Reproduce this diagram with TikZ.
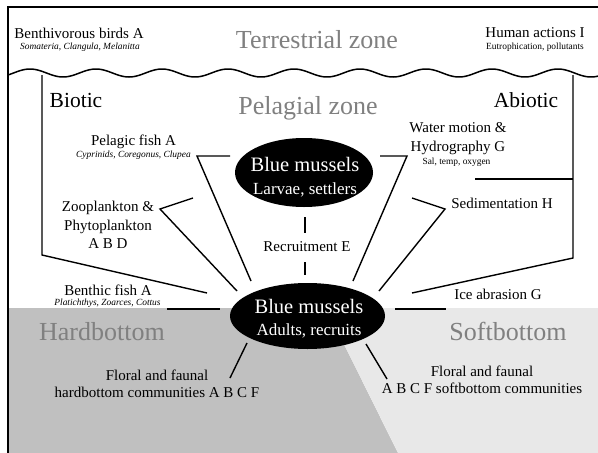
\documentclass[tikz,border=0pt]{standalone}
\usepackage{fontspec}
\setmainfont{Liberation Serif}
\usetikzlibrary{shapes.geometric}
\definecolor{zonegray}{HTML}{808080}
\definecolor{hardfill}{HTML}{C0C0C0}
\definecolor{softfill}{HTML}{E8E8E8}
\begin{document}
\begin{tikzpicture}[x=1pt,y=-1pt,
  lbl/.style={inner sep=0pt, align=center, font=\fontsize{15}{18.5}\selectfont},
  small/.style={inner sep=0pt, font=\fontsize{9.4}{11}\selectfont},
  smallit/.style={inner sep=0pt, font=\fontsize{9.4}{11}\selectfont\itshape},
  zone/.style={inner sep=0pt, text=zonegray, font=\fontsize{26}{30}\selectfont},
  side/.style={inner sep=0pt, font=\fontsize{21.5}{24}\selectfont},
  mussel/.style={ellipse, fill=black, inner sep=0pt},
  musseltext/.style={inner sep=0pt, align=center, text=white},
  conn/.style={line width=1.4pt},
]
\useasboundingbox (0,0) rectangle (598,453);
% bottom regions
\fill[hardfill] (8,308) -- (326,308) -- (398,453) -- (8,453) -- cycle;
\fill[softfill] (326,308) -- (598,308) -- (598,453) -- (398,453) -- cycle;
% frame
\draw[line width=1.2pt] (8,453) -- (8,7) -- (598,7);
% shoreline wave
\draw[line width=1.5pt] plot[domain=8:598, samples=240, smooth] (\x, {73-4*sin(((\x)-211.5)/66*360)});

% zone labels
\node[zone] (terr) at (317,40) {Terrestrial zone};
\node[zone] (pel) at (308,108) {Pelagial zone};
\node[zone] (hard) at (102,332) {Hardbottom};
\node[zone] (soft) at (508,331) {Softbottom};
\node[side] (biotic) at (76,100) {Biotic};
\node[side] (abiotic) at (526,100) {Abiotic};

% top labels
\node[lbl] (birds) at (79,33) {Benthivorous birds A};
\node[smallit] (birdssp) at (80,47) {Somateria, Clangula, Melanitta};
\node[lbl] (human) at (535,33) {Human actions I};
\node[small] (humansp) at (535,47) {Eutrophication, pollutants};

% biotic labels
\node[lbl] (pfish) at (133.5,142) {Pelagic fish A};
\node[smallit] (pfishsp) at (133.5,155) {Cyprinids, Coregonus, Clupea};
\node[lbl] (zoo) at (108,225) {Zooplankton \&\\Phytoplankton\\A B D};
\node[lbl] (bfish) at (108,290) {Benthic fish A};
\node[smallit] (bfishsp) at (107.5,303) {Platichthys, Zoarces, Cottus};

% abiotic labels
\node[lbl, font=\fontsize{15}{19}\selectfont] (water) at (458,138.5) {Water motion \&\\Hydrography G};
\node[small] (watersp) at (456.5,162) {Sal, temp, oxygen};
\node[lbl] (sed) at (502,203) {Sedimentation H};
\node[lbl] (ice) at (498,294) {Ice abrasion G};

% centre
\node[lbl] (rec) at (307,247) {Recruitment E};
\node[mussel, minimum width=138pt, minimum height=69pt] (larvae) at (304,172.5) {};
\node[musseltext, font=\fontsize{20.5}{23}\selectfont] (larvaeTxt) at (305,177)
  {Blue mussels\\{\fontsize{17}{23}\selectfont Larvae, settlers}};
\node[mussel, minimum width=155pt, minimum height=66pt] (adults) at (307.5,316) {};
\node[musseltext, font=\fontsize{20.5}{22}\selectfont] (adultsTxt) at (309,318.5)
  {Blue mussels\\{\fontsize{17}{22}\selectfont Adults, recruits}};

% bottom labels
\node[lbl, font=\fontsize{15}{17}\selectfont] (hfloral) at (157,383.5) {Floral and faunal\\hardbottom communities A B C F};
\node[lbl, font=\fontsize{15}{17}\selectfont] (sfloral) at (482,379.5) {Floral and faunal\\A B C F softbottom communities};

% connector points
\coordinate (bioTop) at (42,75);
\coordinate (bioBend) at (42,255);
\coordinate (bioEnd) at (207,293);
\coordinate (abioTop) at (573,75);
\coordinate (abioBend) at (573,258);
\coordinate (abioEnd) at (412,293);
\coordinate (waterTie) at (475,179);
\coordinate (waterTieEnd) at (573,179);
\coordinate (pfA) at (230,156);
\coordinate (pfB) at (197,156);
\coordinate (pfC) at (251,281);
\coordinate (zoA) at (193,198);
\coordinate (zoB) at (160,209);
\coordinate (zoC) at (237,291);
\coordinate (wmA) at (380,156);
\coordinate (wmB) at (407,156);
\coordinate (wmC) at (353,281);
\coordinate (sdA) at (412,198);
\coordinate (sdB) at (445,209);
\coordinate (sdC) at (379,291);
\coordinate (bfA) at (167,309);
\coordinate (bfB) at (220,309);
\coordinate (icA) at (395,309);
\coordinate (icB) at (446,309);
\coordinate (hfA) at (247,343);
\coordinate (hfB) at (230,378);
\coordinate (sfA) at (366,344);
\coordinate (sfB) at (387,379);
\coordinate (recA) at (305,217);
\coordinate (recB) at (305,233);
\coordinate (recC) at (305,262);
\coordinate (recD) at (305,275);

% connectors
\draw[conn] (bioTop) -- (bioBend) -- (bioEnd);
\draw[conn] (abioTop) -- (abioBend) -- (abioEnd);
\draw[conn] (waterTie) -- (waterTieEnd);
\draw[conn] (pfA) -- (pfB) -- (pfC);
\draw[conn] (zoA) -- (zoB) -- (zoC);
\draw[conn] (wmA) -- (wmB) -- (wmC);
\draw[conn] (sdA) -- (sdB) -- (sdC);
\draw[conn] (bfA) -- (bfB);
\draw[conn] (icA) -- (icB);
\draw[conn] (hfA) -- (hfB);
\draw[conn] (sfA) -- (sfB);
\draw[conn] (recA) -- (recB);
\draw[conn] (recC) -- (recD);
\end{tikzpicture}
\end{document}
